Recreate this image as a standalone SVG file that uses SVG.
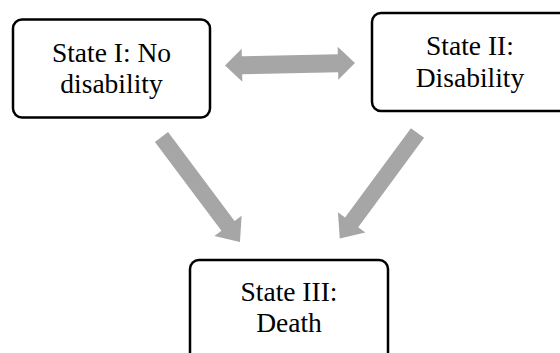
<svg xmlns="http://www.w3.org/2000/svg" xmlns:xlink="http://www.w3.org/1999/xlink" width="560" height="353" viewBox="0 0 560 353">
  <style>
    .box { fill: #ffffff; stroke: #000000; stroke-width: 2.5; }
    .lbl { font-family: "Liberation Serif", "DejaVu Serif", serif; font-size: 27.5px; fill: #000000; text-anchor: middle; }
    .arr { fill: #a6a6a6; stroke: none; }
  </style>
  <defs>
    <path id="single" d="M0,-8.2 L111,-8.2 L111,-17 L131,0 L111,17 L111,8.2 L0,8.2 Z"/>
    <path id="double" d="M0,0 L17,-16.5 L17,-9 L113,-9 L113,-16.5 L130,0 L113,16.5 L113,9 L17,9 L17,16.5 Z"/>
  </defs>
  <rect width="560" height="353" fill="#ffffff"/>
  <g id="connectors">
    <use id="c-1-2" xlink:href="#double" href="#double" class="arr" transform="translate(225,65.5) rotate(-1.1)"/>
    <use id="c-1-3" xlink:href="#single" href="#single" class="arr" transform="translate(161.5,137) rotate(53.2)"/>
    <use id="c-2-3" xlink:href="#single" href="#single" class="arr" transform="translate(417.5,133) rotate(126.4)"/>
  </g>
  <g id="state1">
    <rect class="box" x="13" y="19.5" width="197" height="98" rx="9"/>
    <text class="lbl" x="111.5" y="61.5">State I: No</text>
    <text class="lbl" x="111.5" y="92.5">disability</text>
  </g>
  <g id="state2">
    <rect class="box" x="372" y="13" width="198" height="98" rx="9"/>
    <text class="lbl" x="470" y="55">State II:</text>
    <text class="lbl" x="470" y="86.5">Disability</text>
  </g>
  <g id="state3">
    <rect class="box" x="190" y="260" width="198" height="110" rx="9"/>
    <text class="lbl" x="289" y="301">State III:</text>
    <text class="lbl" x="289" y="332">Death</text>
  </g>
</svg>
